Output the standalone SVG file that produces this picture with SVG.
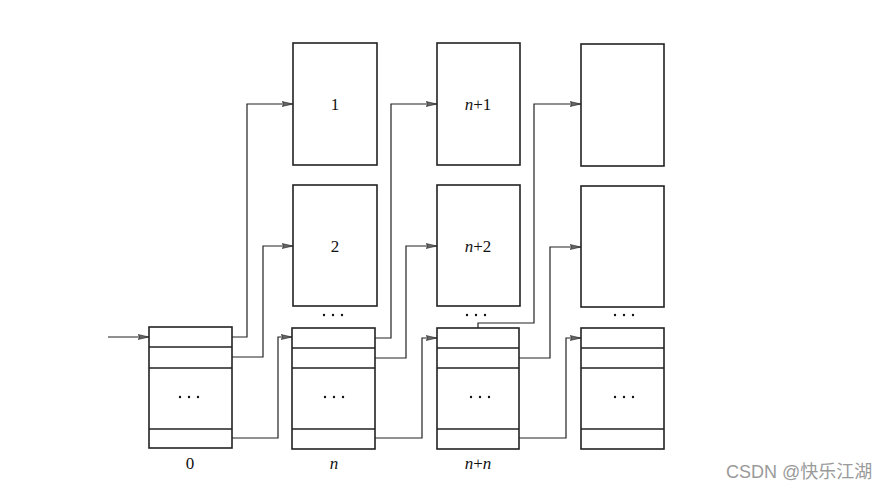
<svg xmlns="http://www.w3.org/2000/svg" width="892" height="493" viewBox="0 0 892 493">
<style>
.box{fill:#fff;stroke:#222;stroke-width:1.6}
.row{stroke:#222;stroke-width:1.4}
.con{fill:none;stroke:#222;stroke-width:1.2}
.t{font-family:"Liberation Serif",serif;font-size:17px;fill:#111;text-anchor:middle}
.dot{fill:#111}
.wm{font-family:"Liberation Sans","Noto Sans CJK SC",sans-serif;font-size:18px;fill:#9a9a9a}
</style>
<defs>
<marker id="ah" markerWidth="12" markerHeight="8" refX="11" refY="4" orient="auto" markerUnits="userSpaceOnUse">
<path d="M0,1.5 L11,4 L0,6.5 L2,4 Z" fill="#666" stroke="#222" stroke-width="0.6"/>
</marker>
<g id="dots3"><circle cx="-9" cy="0" r="1.2"/><circle cx="0" cy="0" r="1.2"/><circle cx="9" cy="0" r="1.2"/></g>
</defs>
<rect width="892" height="493" fill="#fff"/>

<g id="connectors">
<path class="con" d="M108,337 H149" marker-end="url(#ah)"/>
<path class="con" d="M232,337 H247 V104 H293" marker-end="url(#ah)"/>
<path class="con" d="M232,357 H263 V246 H293" marker-end="url(#ah)"/>
<path class="con" d="M232,438 H278 V337 H292" marker-end="url(#ah)"/>
<path class="con" d="M375,338 H391 V104 H437" marker-end="url(#ah)"/>
<path class="con" d="M375,358 H406 V246 H437" marker-end="url(#ah)"/>
<path class="con" d="M375,438 H422 V338 H437" marker-end="url(#ah)"/>
<path class="con" d="M478,328 V323 H534 V104 H581" marker-end="url(#ah)"/>
<path class="con" d="M519,358 H550 V247 H581" marker-end="url(#ah)"/>
<path class="con" d="M519,438 H566 V338 H581" marker-end="url(#ah)"/>
</g>

<g id="box1"><rect class="box" x="293" y="43" width="84" height="122"/><text class="t" x="335" y="110">1</text></g>
<g id="box2"><rect class="box" x="293" y="185" width="84" height="121"/><text class="t" x="335" y="252">2</text></g>
<g id="boxn1"><rect class="box" x="437" y="43" width="83" height="122"/><text class="t" x="478" y="110"><tspan font-style="italic">n</tspan>+1</text></g>
<g id="boxn2"><rect class="box" x="437" y="185" width="83" height="121"/><text class="t" x="478" y="252"><tspan font-style="italic">n</tspan>+2</text></g>
<g id="boxc41"><rect class="box" x="581" y="44" width="83" height="122"/></g>
<g id="boxc42"><rect class="box" x="581" y="186" width="83" height="121"/></g>

<g id="gap-dots" class="dot">
<use href="#dots3" x="333" y="315"/>
<use href="#dots3" x="476" y="315"/>
<use href="#dots3" x="624" y="315"/>
</g>

<g id="block0">
<rect class="box" x="149" y="327" width="83" height="121"/>
<line class="row" x1="149" y1="347" x2="232" y2="347"/>
<line class="row" x1="149" y1="368" x2="232" y2="368"/>
<line class="row" x1="149" y1="429" x2="232" y2="429"/>
<use class="dot" href="#dots3" x="189" y="397"/>
<text class="t" x="190" y="469">0</text>
</g>
<g id="blockn">
<rect class="box" x="292" y="328" width="83" height="121"/>
<line class="row" x1="292" y1="348" x2="375" y2="348"/>
<line class="row" x1="292" y1="368" x2="375" y2="368"/>
<line class="row" x1="292" y1="429" x2="375" y2="429"/>
<use class="dot" href="#dots3" x="334" y="397"/>
<text class="t" x="334" y="469" font-style="italic">n</text>
</g>
<g id="blocknn">
<rect class="box" x="437" y="328" width="82" height="121"/>
<line class="row" x1="437" y1="348" x2="519" y2="348"/>
<line class="row" x1="437" y1="368" x2="519" y2="368"/>
<line class="row" x1="437" y1="429" x2="519" y2="429"/>
<use class="dot" href="#dots3" x="480" y="397"/>
<text class="t" x="478" y="469"><tspan font-style="italic">n</tspan>+<tspan font-style="italic">n</tspan></text>
</g>
<g id="block4">
<rect class="box" x="581" y="328" width="83" height="121"/>
<line class="row" x1="581" y1="348" x2="664" y2="348"/>
<line class="row" x1="581" y1="368" x2="664" y2="368"/>
<line class="row" x1="581" y1="429" x2="664" y2="429"/>
<use class="dot" href="#dots3" x="624" y="397"/>
</g>

<text class="wm" x="726" y="478">CSDN @快乐江湖</text>
</svg>
